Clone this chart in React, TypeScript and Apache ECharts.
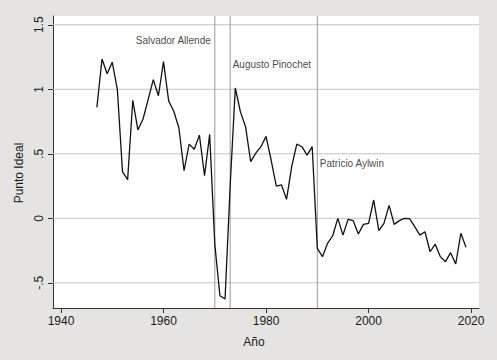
import React, { useEffect, useRef } from "react";
import * as echarts from "echarts";

const years: number[] = [
  1947, 1948, 1949, 1950, 1951, 1952, 1953, 1954, 1955, 1956, 1957, 1958, 1959,
  1960, 1961, 1962, 1963, 1964, 1965, 1966, 1967, 1968, 1969, 1970, 1971, 1972,
  1973, 1974, 1975, 1976, 1977, 1978, 1979, 1980, 1981, 1982, 1983, 1984, 1985,
  1986, 1987, 1988, 1989, 1990, 1991, 1992, 1993, 1994, 1995, 1996, 1997, 1998,
  1999, 2000, 2001, 2002, 2003, 2004, 2005, 2006, 2007, 2008, 2009, 2010, 2011,
  2012, 2013, 2014, 2015, 2016, 2017, 2018, 2019,
];

const idealPoint: number[] = [
  0.86, 1.235, 1.12, 1.21, 0.995, 0.36, 0.3, 0.915, 0.685, 0.77, 0.92, 1.075, 0.95,
  1.215, 0.91, 0.83, 0.7, 0.37, 0.575, 0.535, 0.645, 0.33, 0.65, -0.2, -0.6, -0.625,
  0.25, 1.01, 0.825, 0.71, 0.44, 0.505, 0.555, 0.635, 0.45, 0.25, 0.26, 0.147, 0.4,
  0.575, 0.555, 0.49, 0.555, -0.233, -0.297, -0.194, -0.135, 0.0, -0.13, -0.008, -0.018, -0.122,
  -0.047, -0.039, 0.142, -0.096, -0.039, 0.1, -0.047, -0.018, 0.0, -0.003, -0.065, -0.13, -0.104,
  -0.259, -0.2, -0.297, -0.336, -0.266, -0.354, -0.116, -0.225,
];

const X_MIN = 1938.44;
const X_MAX = 2021.54;
const Y_MIN = -0.695;
const Y_MAX = 1.568;

const xTicks: number[] = [1940, 1960, 1980, 2000, 2020];
const yTicks: number[] = [-0.5, 0, 0.5, 1, 1.5];
const yTickLabels: string[] = ["-.5", "0", ".5", "1", "1.5"];

const eventYears: number[] = [1970, 1973, 1990];
const eventNames: string[] = ["Salvador Allende", "Augusto Pinochet", "Patricio Aylwin"];
const eventLabelY: number[] = [1.375, 1.192, 0.426];
const eventLabelSide: string[] = ["left", "right", "right"];

const FONT = "Liberation Sans, Arial, Helvetica, sans-serif";

export default function App() {
  const ref = useRef<HTMLDivElement>(null);

  useEffect(() => {
    if (!ref.current) return;
    const chart = echarts.init(ref.current, undefined, { renderer: "svg" });

    const lineData = years.map((y, i) => [y, idealPoint[i]]);

    const gridSeries = yTicks.map((t) => ({
      name: "grid" + t,
      type: "line",
      z: 2,
      silent: true,
      symbol: "none",
      data: [
        [X_MIN, t],
        [X_MAX, t],
      ],
      lineStyle: { color: "#c4c4c4", width: 1 },
    }));

    const eventSeries = eventYears.map((yr) => ({
      name: "event" + yr,
      type: "line",
      z: 3,
      silent: true,
      symbol: "none",
      data: [
        [yr, Y_MIN],
        [yr, Y_MAX],
      ],
      lineStyle: { color: "#9a9a9a", width: 1 },
    }));

    const option: any = {
      animation: false,
      backgroundColor: "#e5e4e2",
      grid: {
        left: 53,
        right: 18,
        top: 16,
        bottom: 52,
        show: true,
        backgroundColor: "#ffffff",
        borderWidth: 0,
      },
      xAxis: {
        type: "value",
        min: X_MIN,
        max: X_MAX,
        axisLine: { show: true, onZero: false, lineStyle: { color: "#333", width: 1 } },
        axisTick: {
          show: true,
          length: 5,
          customValues: xTicks,
          lineStyle: { color: "#333", width: 1 },
        },
        axisLabel: {
          customValues: xTicks,
          fontFamily: FONT,
          fontSize: 12,
          color: "#1a1a1a",
          margin: 7,
          formatter: (v: number) => String(Math.round(v)),
        },
        splitLine: { show: false },
      },
      yAxis: {
        type: "value",
        min: Y_MIN,
        max: Y_MAX,
        axisLine: { show: true, onZero: false, lineStyle: { color: "#333", width: 1 } },
        axisTick: {
          show: true,
          length: 5,
          customValues: yTicks,
          lineStyle: { color: "#333", width: 1 },
        },
        axisLabel: {
          customValues: yTicks,
          rotate: 90,
          fontFamily: FONT,
          fontSize: 12,
          color: "#1a1a1a",
          margin: 8,
          formatter: (v: number) => {
            const idx = yTicks.findIndex((t) => Math.abs(t - v) < 1e-6);
            return idx >= 0 ? yTickLabels[idx] : "";
          },
        },
        splitLine: { show: false },
      },
      series: [
        ...gridSeries,
        ...eventSeries,
        {
          name: "Punto Ideal",
          type: "line",
          data: lineData,
          z: 4,
          symbol: "none",
          lineStyle: { color: "#111", width: 1.3 },
        },
        {
          name: "labels",
          type: "scatter",
          z: 5,
          symbolSize: 0,
          silent: true,
          data: eventYears.map((yr, i) => ({
            value: [yr, eventLabelY[i]],
            label: {
              show: true,
              position: eventLabelSide[i],
              distance: i === 0 ? 4 : 2.5,
              formatter: eventNames[i],
              fontFamily: FONT,
              fontSize: 10,
              color: "#111",
            },
          })),
        },
      ],
      graphic: [
        {
          type: "text",
          x: 18.5,
          y: 173,
          rotation: Math.PI / 2,
          style: {
            text: "Punto Ideal",
            fontFamily: FONT,
            fontSize: 12,
            fill: "#1a1a1a",
            align: "center",
            verticalAlign: "middle",
          },
        },
        {
          type: "text",
          x: 254,
          y: 342,
          style: {
            text: "Año",
            fontFamily: FONT,
            fontSize: 12,
            fill: "#1a1a1a",
            align: "center",
            verticalAlign: "middle",
          },
        },
      ],
    };

    chart.setOption(option);
    return () => chart.dispose();
  }, []);

  return (
    <div
      ref={ref}
      style={{ position: "absolute", left: 0, top: 0, width: 497, height: 360 }}
    />
  );
}
